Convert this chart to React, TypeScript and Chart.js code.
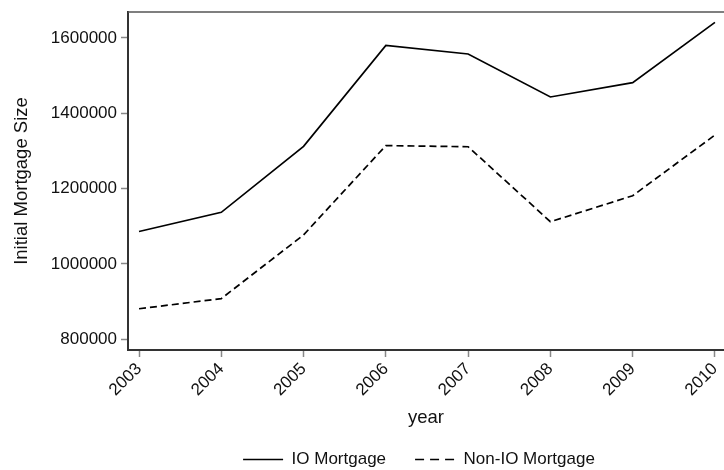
import React, { useEffect, useRef } from "react";
import { Chart, registerables } from "chart.js";

Chart.register(...registerables);

const years = [2003, 2004, 2005, 2006, 2007, 2008, 2009, 2010];
const ioMortgage = [1086000, 1137000, 1312000, 1580000, 1557000, 1443000, 1481000, 1641000];
const nonIoMortgage = [881000, 908000, 1077000, 1314000, 1311000, 1112000, 1181000, 1342000];
const yTicks = [800000, 1000000, 1200000, 1400000, 1600000];
const seriesLabels = ["IO Mortgage", "Non-IO Mortgage"];

const FONT = "'Liberation Sans', Arial, Helvetica, sans-serif";
const TEXT = "#111";

const topBorder = {
  id: "topBorder",
  afterLayout(chart: any) {
    if (chart.legend) {
      chart.legend.left -= 7;
      chart.legend.right -= 7;
    }
  },
  afterDraw(chart: any) {
    const { ctx, chartArea } = chart;
    ctx.save();
    ctx.strokeStyle = "#555";
    ctx.lineWidth = 1.5;
    ctx.beginPath();
    ctx.moveTo(chartArea.left, chartArea.top);
    ctx.lineTo(chartArea.right, chartArea.top);
    ctx.stroke();
    ctx.restore();
  },
};

export default function App() {
  const ref = useRef<HTMLCanvasElement | null>(null);
  useEffect(() => {
    if (!ref.current) return;
    const chart = new Chart(ref.current, {
      type: "line",
      data: {
        datasets: [
          {
            label: seriesLabels[0],
            data: years.map((x, i) => ({ x, y: ioMortgage[i] })),
            borderColor: "#000",
            backgroundColor: "#000",
            borderWidth: 1.7,
            pointRadius: 0,
            tension: 0,
            fill: false,
          },
          {
            label: seriesLabels[1],
            data: years.map((x, i) => ({ x, y: nonIoMortgage[i] })),
            borderColor: "#000",
            backgroundColor: "#000",
            borderWidth: 1.7,
            borderDash: [7, 4],
            pointRadius: 0,
            tension: 0,
            fill: false,
          },
        ],
      },
      options: {
        animation: false,
        responsive: false,
        maintainAspectRatio: false,
        layout: { padding: { top: 12, left: 0, right: 0, bottom: 0 } },
        scales: {
          x: {
            type: "linear",
            min: 2002.866,
            max: 2010.11,
            afterBuildTicks: (s: any) => {
              s.ticks = years.map((v) => ({ value: v }));
            },
            afterFit: (s: any) => {
              s.paddingLeft = 0;
              s.paddingRight = 0;
              s.height = 72;
            },
            ticks: {
              minRotation: 45,
              maxRotation: 45,
              autoSkip: false,
              color: TEXT,
              padding: 2,
              font: { family: FONT, size: 17 },
              callback: (v: any) => String(v),
            },
            grid: { display: true, drawOnChartArea: false, drawTicks: true, tickLength: 7, color: "#888", tickWidth: 1.5 },
            border: { display: true, color: "#333", width: 2 },
            title: { display: true, text: "year", color: TEXT, font: { family: FONT, size: 18.5 }, padding: { top: 4, bottom: -7 } },
          },
          y: {
            type: "linear",
            min: 771600,
            max: 1668500,
            afterBuildTicks: (s: any) => {
              s.ticks = yTicks.map((v) => ({ value: v }));
            },
            afterFit: (s: any) => {
              s.width = 128;
              s.paddingTop = 0;
              s.paddingBottom = 0;
            },
            ticks: {
              color: TEXT,
              padding: 4,
              font: { family: FONT, size: 17 },
              callback: (v: any) => String(v),
            },
            grid: { display: true, drawOnChartArea: false, drawTicks: true, tickLength: 7, color: "#888", tickWidth: 1.5 },
            border: { display: true, color: "#333", width: 2 },
            title: { display: true, text: "Initial Mortgage Size", color: TEXT, font: { family: FONT, size: 18.5 }, padding: { top: 11, bottom: 4 } },
          },
        },
        plugins: {
          legend: {
            position: "bottom",
            fullSize: false,
            maxHeight: 48,
            labels: {
              usePointStyle: true,
              pointStyle: "line",
              pointStyleWidth: 40,
              color: TEXT,
              padding: 29,
              font: { family: FONT, size: 17 },
              generateLabels: (c: any) => {
                const items = (Chart as any).defaults.plugins.legend.labels.generateLabels(c);
                items.forEach((it: any, i: number) => {
                  it.lineDash = i === 1 ? [9, 6] : [];
                  it.lineWidth = 1.5;
                  it.strokeStyle = "#000";
                });
                return items;
              },
            },
          },
          tooltip: { enabled: false },
        },
      },
      plugins: [topBorder],
    } as any);
    return () => chart.destroy();
  }, []);
  return (
    <div style={{ position: "absolute", left: 0, top: 0, width: 724, height: 470, background: "#fff" }}>
      <canvas ref={ref} width={724} height={470} style={{ width: 724, height: 470, display: "block" }} />
    </div>
  );
}
